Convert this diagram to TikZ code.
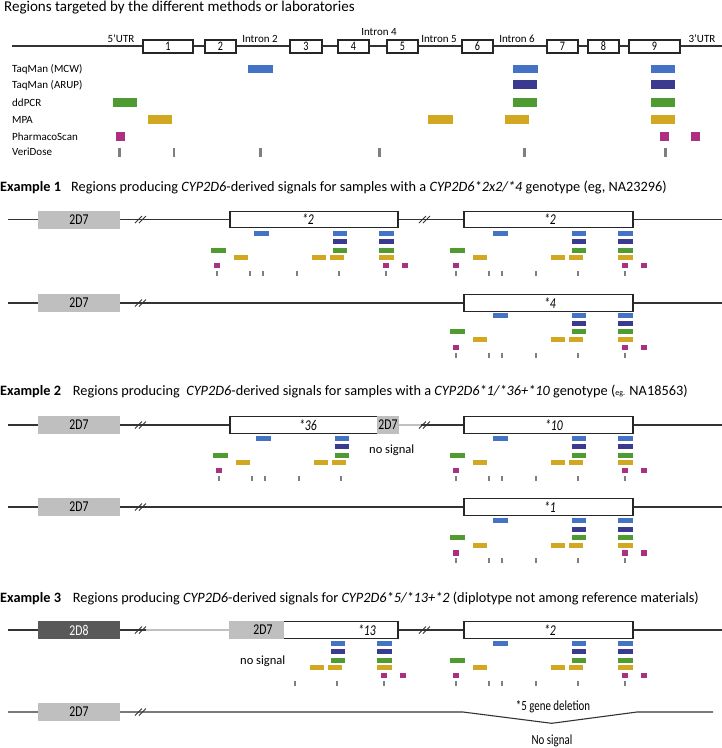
\documentclass[tikz,border=0pt]{standalone}
\usepackage{fontspec}
\setmainfont{Carlito}
\newfontfamily\condfont[FakeStretch=0.78]{Carlito}
\definecolor{cblue}{HTML}{4472C4}
\definecolor{cnavy}{HTML}{3A3A8F}
\definecolor{cgreen}{HTML}{4F9A31}
\definecolor{cgold}{HTML}{D2A822}
\definecolor{cmag}{HTML}{AB3080}
\definecolor{ctick}{HTML}{7F7F7F}
\definecolor{boxgray}{HTML}{BFBFBF}
\definecolor{boxdark}{HTML}{595959}
\definecolor{lgline}{HTML}{C0C0C0}
\newcommand\brkmark[2]{\draw[black!80, line width=0.9pt] ({#1-6},{#2+3.5}) -- ({#1+1},{#2-3.5}) ({#1-2},{#2+3.5}) -- ({#1+5},{#2-3.5});}
\newcommand\sigpat[2]{%
\begin{scope}[shift={(#1,#2)}]
 \foreach \a/\b in {493/508,572/586,618/633} \fill[cblue] (\a,0) rectangle (\b,5);
 \foreach \a/\b in {572/586,618/633} \fill[cnavy] (\a,8.3) rectangle (\b,13.3);
 \foreach \a/\b in {450/465,572/586,618/633} \fill[cgreen] (\a,16.7) rectangle (\b,21.7);
 \foreach \a/\b in {473/487,551/565,569/583,618/633} \fill[cgold] (\a,24.2) rectangle (\b,29.2);
 \foreach \a in {453,622,641} \fill[cmag] (\a,31.8) rectangle ++(5.8,5.6);
 \foreach \a in {455.7,488.7,502,536,578,625} \fill[ctick] ({\a-1},40) rectangle ({\a+1},45);
\end{scope}}
\begin{document}
\begin{tikzpicture}[x=1pt,y=-1pt,
  gline/.style={line width=1.1pt, draw=black!80},
  lgl/.style={line width=2.6pt, draw=lgline},
  exon/.style={draw=black!85, line width=1.3pt, fill=white},
  small/.style={font=\fontsize{11}{13}\selectfont, anchor=base west, inner sep=0pt},
  gtop/.style={font=\fontsize{11}{13}\selectfont, anchor=base, inner sep=0pt},
  numlab/.style={font=\condfont\fontsize{13}{15}\selectfont, inner sep=0pt},
  boxlab/.style={font=\condfont\fontsize{15}{17}\selectfont, inner sep=0pt},
  starlab/.style={font=\condfont\itshape\fontsize{15}{17}\selectfont, inner sep=0pt},
  head/.style={font=\fontsize{14.3}{16}\selectfont, anchor=base west, inner sep=0pt},
  nosig/.style={font=\fontsize{12.5}{14}\selectfont, anchor=base west, inner sep=0pt},
  dellab/.style={font=\condfont\fontsize{14}{16}\selectfont, anchor=base, inner sep=0pt}
]
\useasboundingbox (0,0) rectangle (722,748);
% ---------------- top section
\node[font=\fontsize{15}{18}\selectfont, anchor=base west, inner sep=0pt] (title) at (4,11) {Regions targeted by the different methods or laboratories};
\draw[gline] (12,46) -- (722,46);
\foreach \a/\b/\n in {143/193/1,205/236/2,290/322/3,338/369/4,387/418/5,462/493/6,547/578/7,588/619/8,629/680/9}{
  \draw[exon] (\a,40) rectangle (\b,53);
  \node[numlab] (ex\n) at ({(\a+\b)/2},46.5) {\n};
}
\node[gtop] (utr5) at (121,42) {5’UTR};
\node[gtop] (in2) at (260,42) {Intron 2};
\node[gtop] (in4) at (379,35.7) {Intron 4};
\node[gtop] (in5) at (439,42) {Intron 5};
\node[gtop] (in6) at (517,42) {Intron 6};
\node[gtop] (utr3) at (702,42) {3’UTR};
\node[small] (l1) at (12,72.3) {TaqMan (MCW)};
\node[small] (l2) at (12,88.3) {TaqMan (ARUP)};
\node[small] (l3) at (12,106) {ddPCR};
\node[small] (l4) at (12,123.3) {MPA};
\node[small] (l5) at (12,140) {PharmacoScan};
\node[small] (l6) at (12,155.7) {VeriDose};
\foreach \a/\b in {248/273,513/538,651/675} \fill[cblue] (\a,64.5) rectangle (\b,72.8);
\foreach \a/\b in {513/537,651/675} \fill[cnavy] (\a,80.3) rectangle (\b,88.7);
\foreach \a/\b in {113/137,513/537,651/675} \fill[cgreen] (\a,98) rectangle (\b,106.5);
\foreach \a/\b in {148/172,428/453,505/529,651/675} \fill[cgold] (\a,115.3) rectangle (\b,123.8);
\foreach \a in {116,660,691} \fill[cmag] (\a,132) rectangle ++(8.5,8.8);
\foreach \a in {119.5,174,260.5,379.5,524.5,665.5} \fill[ctick] ({\a-1.3},147.5) rectangle ({\a+1.3},156.8);
% ---------------- Example 1
\node[head] (h1a) at (0,191) {\textbf{Example 1}};
\node[head] (h1b) at (71,191) {Regions producing \textit{CYP2D6}-derived signals for samples with a \textit{CYP2D6*2x2/*4} genotype (eg, NA23296)};
% line 1
\draw[gline] (8,219.5) -- (722,219.5);
\fill[boxgray] (38,210.5) rectangle (120,228.5);
\node[boxlab] (e1g1) at (79,219.5) {2D7};
\brkmark{141}{219.5}
\brkmark{425}{219.5}
\draw[exon] (230,211.25) rectangle (398,227.75);
\node[starlab] (e1s1) at (308,219.5) {*2};
\draw[exon] (464,211.25) rectangle (633,227.75);
\node[starlab] (e1s2) at (550,219.5) {*2};
\sigpat{-239}{231}
\sigpat{0}{231}
% line 2
\draw[gline] (8,303) -- (722,303);
\fill[boxgray] (38,294) rectangle (120,312);
\node[boxlab] (e1g2) at (79,303) {2D7};
\brkmark{141}{303}
\draw[exon] (464,294.75) rectangle (633,311.25);
\node[starlab] (e1s3) at (550,303) {*4};
\sigpat{0}{312.7}
% ---------------- Example 2
\node[head] (h2a) at (0,395.7) {\textbf{Example 2}};
\node[head] (h2b) at (72.7,395.7) {Regions producing\ \ \textit{CYP2D6}-derived signals for samples with a \textit{CYP2D6*1/*36+*10} genotype ({\fontsize{8}{9}\selectfont eg.} NA18563)};
\draw[gline] (8,425) -- (230,425);
\draw[gline] (421,425) -- (722,425);
\draw[lgl] (399,425) -- (421,425);
\fill[boxgray] (38,416) rectangle (120,434);
\node[boxlab] (e2g1) at (79,425) {2D7};
\brkmark{141}{425}
\brkmark{425}{425}
\draw[exon] (230,416.75) rectangle (378,433.25);
\node[starlab] (e2s1) at (308,425) {*36};
\fill[boxgray] (377,416.1) rectangle (399,433.9);
\node[boxlab] (e2g2) at (388,425) {2D7};
\draw[exon] (464,416.75) rectangle (633,433.25);
\node[starlab] (e2s2) at (554,425) {*10};
\node[nosig] (e2ns) at (369,453) {no signal};
\begin{scope}
 \clip (0,400) rectangle (377,500);
 \sigpat{-237}{436}
\end{scope}
\sigpat{0}{436}
% line 2
\draw[gline] (8,507) -- (722,507);
\fill[boxgray] (38,498) rectangle (120,516);
\node[boxlab] (e2g3) at (79,507) {2D7};
\brkmark{141}{507}
\draw[exon] (464,498.75) rectangle (633,515.25);
\node[starlab] (e2s3) at (550,507) {*1};
\sigpat{0}{518.3}
% ---------------- Example 3
\node[head] (h3a) at (0,602.3) {\textbf{Example 3}};
\node[head] (h3b) at (72.7,602.3) {Regions producing \textit{CYP2D6}-derived signals for \textit{CYP2D6*5/*13+*2} (diplotype not among reference materials)};
\draw[gline] (8,630) -- (146,630);
\draw[lgl] (146,630) -- (230,630);
\draw[gline] (398,630) -- (722,630);
\fill[boxdark] (38,621) rectangle (120,639);
\node[boxlab, text=white] (e3d) at (79,630) {2D8};
\brkmark{141}{630}
\brkmark{425}{630}
\draw[exon] (283,621.75) rectangle (398,638.25);
\node[starlab] (e3s1) at (367,630) {*13};
\fill[boxgray] (229,621.1) rectangle (284,638.9);
\node[boxlab] (e3g1) at (263,630) {2D7};
\draw[exon] (464,621.75) rectangle (633,638.25);
\node[starlab] (e3s2) at (550,630) {*2};
\node[nosig] (e3ns) at (240,664) {no signal};
\begin{scope}
 \clip (284,600) rectangle (722,700);
 \sigpat{-241}{641}
\end{scope}
\sigpat{0}{641}
% line 2
\coordinate (d0) at (8,712);
\coordinate (d1) at (463,712);
\coordinate (d2) at (551.7,723.3);
\coordinate (d3) at (637,712);
\coordinate (d4) at (713,712);
\draw[gline] (d0) -- (d1) -- (d2) -- (d3) -- (d4);
\fill[boxgray] (38,703) rectangle (120,721);
\node[boxlab] (e3g2) at (79,712) {2D7};
\brkmark{141}{712}
\node[dellab] (e3del) at (553,710) {*5 gene deletion};
\node[dellab] (e3nos) at (552,744) {No signal};
\end{tikzpicture}
\end{document}
